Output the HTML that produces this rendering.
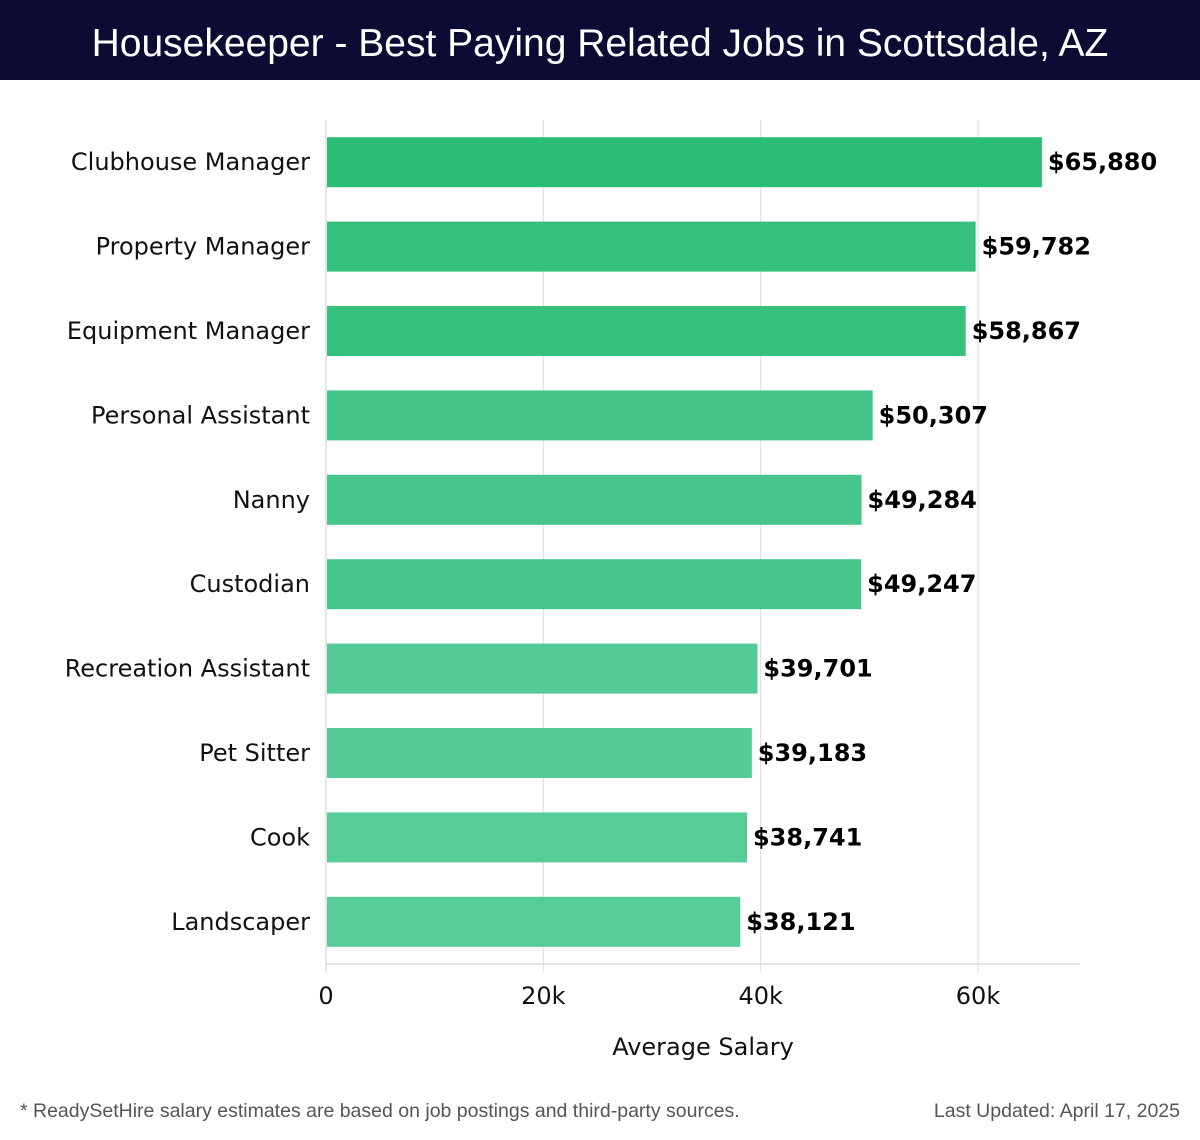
<!DOCTYPE html>
<html><head><meta charset="utf-8"><style>
body{margin:0;width:1200px;height:1140px;background:#fff;font-family:"DejaVu Sans","Liberation Sans",sans-serif;overflow:hidden}
#hdr{position:absolute;left:0;top:0;width:1200px;height:80px;background:#0b0b33;color:#fff;font-size:39px;text-align:center;line-height:88px;font-family:"Liberation Sans","DejaVu Sans",sans-serif}
.foot{position:absolute;top:1100px;font-size:19.5px;color:#555;font-family:"Liberation Sans","DejaVu Sans",sans-serif}
</style></head><body>
<div id="hdr">Housekeeper - Best Paying Related Jobs in Scottsdale, AZ</div>
<svg id="chart" width="1200" height="1140" style="position:absolute;left:0;top:0"></svg>
<div class="foot" style="left:20px">* ReadySetHire salary estimates are based on job postings and third-party sources.</div>
<div class="foot" style="right:20px">Last Updated: April 17, 2025</div>
<script>
const categories=["Clubhouse Manager","Property Manager","Equipment Manager","Personal Assistant","Nanny","Custodian","Recreation Assistant","Pet Sitter","Cook","Landscaper"];
const salaries=[65880,59782,58867,50307,49284,49247,39701,39183,38741,38121];
const tickValues=[0,20000,40000,60000];
const tickLabels=["0","20k","40k","60k"];
const NS="http://www.w3.org/2000/svg";
const svg=document.getElementById('chart');
const x0=326,pxPer=(978-326)/60000,xEnd=1080,top0=120,bot=964;
const step=(bot-top0)/categories.length;
const x=v=>x0+v*pxPer;
const yc=i=>top0+step*(i+0.5);
function mk(t,a){const e=document.createElementNS(NS,t);for(const k in a)e.setAttribute(k,a[k]);svg.appendChild(e);return e;}
tickValues.forEach((v,i)=>{
 const g=mk('line',{x1:x(v),x2:x(v),y1:top0,y2:973,stroke:'#dddddd','stroke-width':1});
 
 
 const t=mk('text',{x:x(v),y:1004,'text-anchor':'middle','font-size':24,fill:'#111'});
 t.textContent=tickLabels[i];
 
 
});
const ax=mk('line',{x1:x0,x2:xEnd,y1:bot,y2:bot,stroke:'#cccccc','stroke-width':1});


const ay=mk('line',{x1:x0,x2:x0,y1:top0,y2:973,stroke:'#cccccc','stroke-width':1});


const maxV=Math.max(...salaries),minV=Math.min(...salaries);
categories.forEach((c,i)=>{
 const v=salaries[i];
 const f=(maxV-v)/(maxV-minV||1);
 const col=`rgb(${Math.round(43+44*f)},${Math.round(189+15*f)},${Math.round(116+36*f)})`;
 const r=mk('rect',{x:x0+1,y:yc(i)-25,width:x(v)-x0-1,height:50,fill:col});
 
 
 const l=mk('text',{x:310,y:yc(i)+8,'text-anchor':'end','font-size':24,fill:'#111'});
 l.textContent=c;
 
 
 const vl=mk('text',{x:x(v)+6,y:yc(i)+8,'font-size':24,'font-weight':'bold',fill:'#000'});
 vl.textContent='$'+v.toLocaleString('en-US');
 
 
});
const at=mk('text',{x:703,y:1055,'text-anchor':'middle','font-size':24,fill:'#111'});
at.textContent='Average Salary';


</script>
</body></html>
